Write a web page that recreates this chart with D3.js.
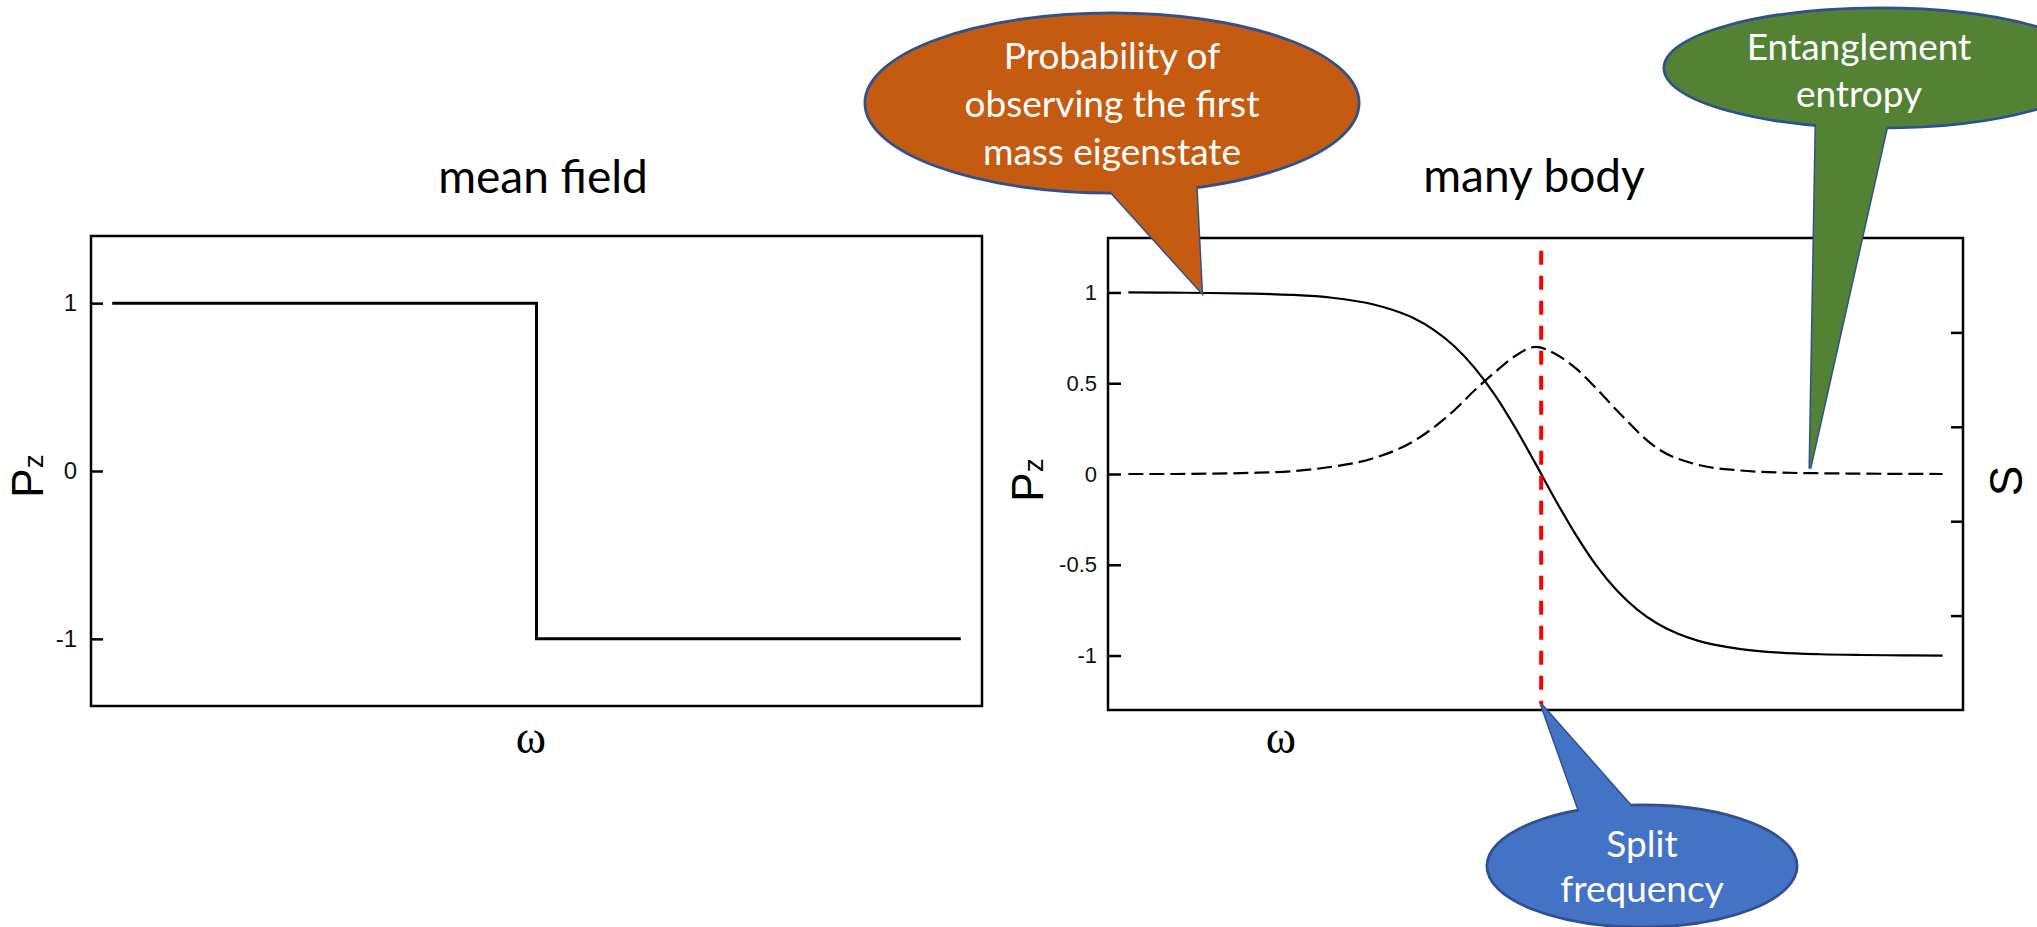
<!DOCTYPE html>
<html>
<head>
<meta charset="utf-8">
<script src="https://cdn.jsdelivr.net/npm/d3@7"></script>
<style>
  body { margin: 0; background: #fff; }
</style>
</head>
<body>
<script>
// mean field: sharp step at the split frequency
var stepOmega = [0, 5, 10];
var stepPz = [1, -1, -1];

// many body: smooth crossover of Pz and the entropy bump
var omega = [0, 0.5, 1, 1.5, 2, 2.5, 3, 3.25, 3.5, 3.75, 4, 4.25, 4.5, 4.75, 5, 5.25, 5.5, 5.75, 6, 6.25, 6.5, 6.75, 7, 7.5, 8, 8.5, 9, 9.5, 10];
var pz = [1, 0.999, 0.997, 0.994, 0.987, 0.971, 0.935, 0.903, 0.859, 0.794, 0.705, 0.586, 0.436, 0.256, 0.057,
          -0.147, -0.338, -0.506, -0.642, -0.747, -0.825, -0.88, -0.919, -0.963, -0.984, -0.993, -0.997, -0.999, -1];
var entOmega = [0, 0.5, 1, 1.5, 2, 2.5, 3, 3.5, 4, 4.25, 4.5, 4.75, 5, 5.25, 5.5, 5.75, 6, 6.5, 7, 7.5, 8, 8.5, 9, 10];
var entropy = [0, 0, 0.002, 0.006, 0.015, 0.04, 0.085, 0.18, 0.35, 0.46, 0.56, 0.65, 0.70, 0.66, 0.58, 0.47, 0.35, 0.14, 0.05, 0.02, 0.008, 0.004, 0.002, 0];
var splitOmega = 5.07;
var splitRange = [1.23, -1.27];

var leftTicks = [-1, 0, 1];
var rightTicks = [-1, -0.5, 0, 0.5, 1];
var sTicks = [1, 2, 3, 4];

var titles = ['mean field', 'many body'];

var svg = d3.select('body')
  .append('svg')
    .attr('width', 2037)
    .attr('height', 927);

svg.append('rect').attr('width', 2037).attr('height', 927).attr('fill', '#fff');

// ---------- left panel ----------
var x1 = d3.scaleLinear().domain([-0.25, 10.25]).range([91, 982]);
var y1 = d3.scaleLinear().domain([-1.4, 1.4]).range([706, 236]);

var left = svg.append('g');

var axL = left.append('g')
  .attr('transform', 'translate(91,0)')
  .call(d3.axisLeft(y1).tickValues(leftTicks).tickSizeInner(-12).tickSizeOuter(0).tickPadding(14)
    .tickFormat(d => String(d)));
axL.select('.domain').remove();
axL.selectAll('line').attr('stroke', '#000').attr('stroke-width', 2.5);
axL.selectAll('text')
  .attr('font-family', '"Liberation Sans", Arial, sans-serif')
  .attr('font-size', 24).attr('fill', '#111');

left.append('rect')
  .attr('x', 91).attr('y', 236).attr('width', 891).attr('height', 470)
  .attr('fill', 'none').attr('stroke', '#000').attr('stroke-width', 2.5);

left.append('path')
  .datum(stepOmega.map((d, i) => [d, stepPz[i]]))
  .attr('fill', 'none').attr('stroke', '#000').attr('stroke-width', 3)
  .attr('d', d3.line().x(d => x1(d[0])).y(d => y1(d[1])).curve(d3.curveStepAfter));

left.append('text')
  .attr('x', 543).attr('y', 193).attr('text-anchor', 'middle')
  .attr('font-family', 'Lato, sans-serif').attr('font-size', 46)
  .text(titles[0]);

// ---------- right panel ----------
var x2 = d3.scaleLinear().domain([-0.25, 10.25]).range([1108, 1963]);
var y2 = d3.scaleLinear().domain([-1.3, 1.3]).range([710, 238]);
var yS = d3.scaleLinear().domain([0, 5]).range([710, 238]);

var right = svg.append('g');

var axR = right.append('g')
  .attr('transform', 'translate(1108,0)')
  .call(d3.axisLeft(y2).tickValues(rightTicks).tickSizeInner(-13).tickSizeOuter(0).tickPadding(11)
    .tickFormat(d => String(d)));
axR.select('.domain').remove();
axR.selectAll('line').attr('stroke', '#000').attr('stroke-width', 2.5);
axR.selectAll('text')
  .attr('font-family', '"Liberation Sans", Arial, sans-serif')
  .attr('font-size', 22).attr('fill', '#111');

var axS = right.append('g')
  .attr('transform', 'translate(1963,0)')
  .call(d3.axisRight(yS).tickValues(sTicks).tickSizeInner(-12).tickSizeOuter(0).tickFormat(''));
axS.select('.domain').remove();
axS.selectAll('line').attr('stroke', '#000').attr('stroke-width', 2.5);

right.append('rect')
  .attr('x', 1108).attr('y', 238).attr('width', 855).attr('height', 472)
  .attr('fill', 'none').attr('stroke', '#000').attr('stroke-width', 2.5);

var line2 = d3.line().x(d => x2(d[0])).y(d => y2(d[1])).curve(d3.curveMonotoneX);

right.append('path')
  .datum(entOmega.map((d, i) => [d, entropy[i]]))
  .attr('fill', 'none').attr('stroke', '#000').attr('stroke-width', 2.2)
  .attr('stroke-dasharray', '15,6')
  .attr('d', line2);

right.append('path')
  .datum(omega.map((d, i) => [d, pz[i]]))
  .attr('fill', 'none').attr('stroke', '#000').attr('stroke-width', 2.2)
  .attr('d', line2);

right.append('line')
  .attr('x1', x2(splitOmega)).attr('x2', x2(splitOmega))
  .attr('y1', y2(splitRange[0])).attr('y2', y2(splitRange[1]))
  .attr('stroke', '#ff0000').attr('stroke-width', 4)
  .attr('stroke-dasharray', '14,11');

right.append('text')
  .attr('x', 1534).attr('y', 192).attr('text-anchor', 'middle')
  .attr('font-family', 'Lato, sans-serif').attr('font-size', 46)
  .text(titles[1]);

// ---------- axis titles ----------
function pzLabel(bx, cy) {
  var t = svg.append('text')
    .attr('transform', 'translate(' + bx + ',' + cy + ') rotate(-90)')
    .attr('text-anchor', 'middle')
    .attr('font-family', '"Liberation Sans", Arial, sans-serif');
  t.append('tspan').attr('font-size', 44).text('P');
  t.append('tspan').attr('font-size', 28).text('z');
}
pzLabel(43, 476);
pzLabel(1043, 480);

svg.append('text')
  .attr('transform', 'translate(2022,481) rotate(-90)')
  .attr('text-anchor', 'middle')
  .attr('font-family', '"Liberation Sans", Arial, sans-serif')
  .attr('font-size', 46)
  .text('S');

svg.append('text')
  .attr('x', 531).attr('y', 753).attr('text-anchor', 'middle')
  .attr('font-family', '"Liberation Serif", serif').attr('font-size', 46)
  .text('ω');
svg.append('text')
  .attr('x', 1281).attr('y', 753).attr('text-anchor', 'middle')
  .attr('font-family', '"Liberation Serif", serif').attr('font-size', 46)
  .text('ω');

// ---------- callouts ----------
var outline = '#2F528F';

function callout(c) {
  var g = svg.append('g');
  // pull the base corners a little inside the ellipse so the seam is hidden
  var base = [c.b1, c.b2].map(p => {
    var dx = c.cx - p[0], dy = c.cy - p[1], len = Math.hypot(dx, dy);
    return [p[0] + 4 * dx / len, p[1] + 4 * dy / len];
  });
  var d = 'M' + base[0] + 'L' + c.tip + 'L' + base[1] + 'Z';
  g.append('path').attr('d', d).attr('fill', c.fill)
    .attr('stroke', outline).attr('stroke-width', 3).attr('stroke-linejoin', 'miter');
  g.append('ellipse').attr('cx', c.cx).attr('cy', c.cy).attr('rx', c.rx).attr('ry', c.ry)
    .attr('fill', c.fill).attr('stroke', outline).attr('stroke-width', 3);
  g.append('path').attr('d', d).attr('fill', c.fill);
  g.append('ellipse').attr('cx', c.cx).attr('cy', c.cy).attr('rx', c.rx - 1.5).attr('ry', c.ry - 1.5)
    .attr('fill', c.fill);
  c.lines.forEach((s, i) => {
    g.append('text')
      .attr('x', c.tx).attr('y', c.ty + i * c.lh)
      .attr('text-anchor', 'middle')
      .attr('font-family', 'Lato, sans-serif').attr('font-size', 37)
      .attr('fill', '#fff')
      .text(s);
  });
}

callout({
  cx: 1112, cy: 103, rx: 247, ry: 90,
  b1: [1108, 193], b2: [1199, 187],
  tip: [x2(0.9), y2(1)],
  fill: '#C55A11',
  lines: ['Probability of', 'observing the first', 'mass eigenstate'],
  tx: 1112, ty: 69, lh: 48
});

callout({
  cx: 1880, cy: 68, rx: 216, ry: 60,
  b1: [1813, 126], b2: [1888, 128],
  tip: [x2(8.37), y2(0.03)],
  fill: '#548235',
  lines: ['Entanglement', 'entropy'],
  tx: 1859, ty: 60, lh: 47
});

callout({
  cx: 1642, cy: 866, rx: 155, ry: 61,
  b1: [1577, 811], b2: [1633, 805],
  tip: [x2(splitOmega), y2(splitRange[1])],
  fill: '#4472C4',
  lines: ['Split', 'frequency'],
  tx: 1642, ty: 857, lh: 45
});
</script>
</body>
</html>
